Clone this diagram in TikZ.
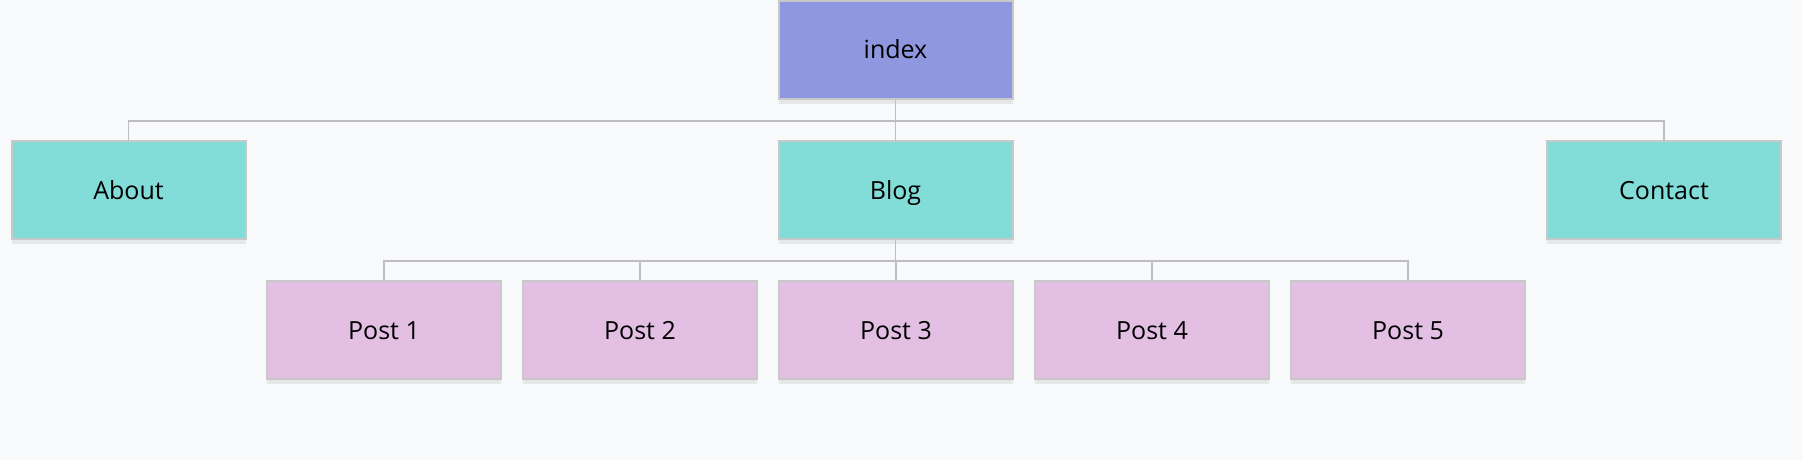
\documentclass[tikz,border=0pt]{standalone}
\usepackage{fontspec}
\setmainfont{Open Sans}
\usepackage{tikz}
\usetikzlibrary{positioning,shadows}
\definecolor{paper}{RGB}{248,249,251}
\definecolor{edge}{RGB}{200,200,200}
\definecolor{wirecol}{RGB}{190,190,192}
\definecolor{rootfill}{RGB}{143,151,224}
\definecolor{pagefill}{RGB}{130,220,216}
\definecolor{postfill}{RGB}{226,191,227}

\begin{document}
\begin{tikzpicture}[
    x=0.5pt,y=0.5pt,
    font=\fontsize{12.5pt}{15pt}\selectfont,
    page/.style={draw=edge,line width=1pt,fill=#1,
      minimum width=117pt,minimum height=49pt,inner sep=0pt,text=black,
      text height=9pt,text depth=0pt,
      drop shadow={shadow xshift=0pt,shadow yshift=-2.5pt,opacity=0.07,fill=black}},
    wire/.style={draw=wirecol,line width=0.8pt},
  ]

  \fill[paper] (0,0) rectangle (1802,-460);
  \useasboundingbox (0,0) rectangle (1802,-460);

  % top level
  \node[page=rootfill] (index) at (895.5,-50) {index};
  \node[page=pagefill] (about) at (128.5,-190) {About};
  \node[page=pagefill] (blog) at (895.5,-190) {Blog};
  \node[page=pagefill] (contact) at (1664,-190) {Contact};

  % posts under the blog
  \foreach \i/\x in {1/384, 2/640, 3/896, 4/1152, 5/1408} {
    \node[page=postfill] (post\i) at (\x,-330) {Post \i};
  }

  \coordinate (bus1) at (895.5,-121);
  \coordinate (bus2) at (895.5,-261);

  \draw[wire] (index.south) -- (bus1) -| (about.north);
  \draw[wire] (bus1) -- (blog.north);
  \draw[wire] (bus1) -| (contact.north);

  \draw[wire] (blog.south) -- (bus2);
  \foreach \i in {1,...,5} {
    \draw[wire] (bus2) -| (post\i.north);
  }

\end{tikzpicture}
\end{document}
